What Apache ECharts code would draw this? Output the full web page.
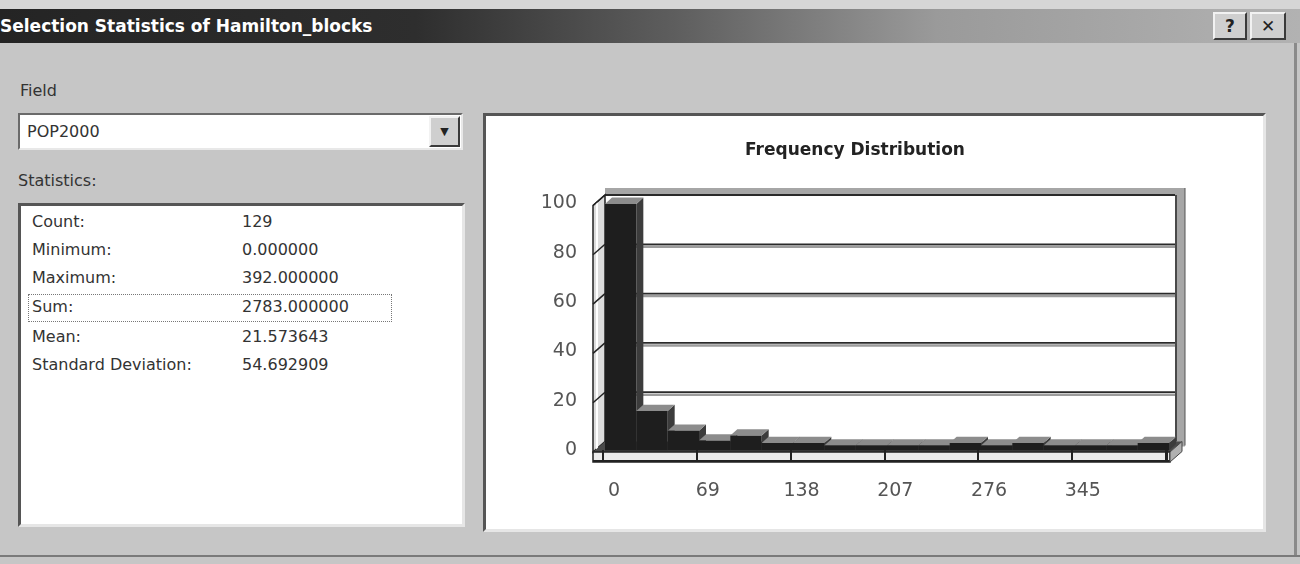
<!DOCTYPE html>
<html>
<head>
<meta charset="utf-8">
<script src="https://cdn.jsdelivr.net/npm/echarts@6/dist/echarts.min.js"></script>
<style>
  html,body{margin:0;padding:0;}
  body{width:1300px;height:564px;overflow:hidden;position:relative;background:#c6c6c6;font-family:"DejaVu Sans",Verdana,sans-serif;color:#2a2a2a;}
  .abs{position:absolute;}
  #topstrip{left:0;top:0;width:1300px;height:9px;background:#d6d6d6;}
  #titlebar{left:0;top:9px;width:1300px;height:34px;background:linear-gradient(90deg,#242424 0%,#2e2e2e 32%,#5e5e5e 52%,#9a9a9a 72%,#b2b2b2 100%);}
  #titletext{left:0;top:9px;height:34px;line-height:34px;color:#fff;font-weight:bold;font-size:17px;white-space:nowrap;}
  .btn{top:12px;height:24px;background:#cfcfcf;border-top:2px solid #f2f2f2;border-left:2px solid #f2f2f2;border-bottom:2px solid #3a3a3a;border-right:2px solid #3a3a3a;text-align:center;line-height:24px;font-weight:bold;font-size:17px;color:#222;}
  .lbl{font-size:16px;color:#333;white-space:nowrap;}
  #dropdown{left:18px;top:113px;width:441px;height:33px;background:#fff;border-top:2px solid #6a6a6a;border-left:2px solid #6a6a6a;border-bottom:2px solid #e8e8e8;border-right:2px solid #e8e8e8;}
  #ddtext{left:7px;top:0;line-height:33px;font-size:16px;color:#333;}
  #ddbtn{right:1px;top:1px;width:27px;height:27px;background:#cfcfcf;border-top:2px solid #f2f2f2;border-left:2px solid #f2f2f2;border-bottom:2px solid #3a3a3a;border-right:2px solid #3a3a3a;text-align:center;line-height:27px;font-size:11px;color:#222;}
  #statsbox{left:18px;top:203px;width:441px;height:318px;background:#fff;border-top:3px solid #555;border-left:3px solid #555;border-bottom:3px solid #e6e6e6;border-right:3px solid #e6e6e6;}
  .srow{font-size:16px;color:#333;white-space:nowrap;height:20px;line-height:20px;}
  #focus{left:28px;top:294px;width:362px;height:26px;border:1px dotted #777;}
  #chartpanel{left:483px;top:113px;width:777px;height:413px;background:#fff;border-top:3px solid #555;border-left:3px solid #555;border-bottom:3px solid #e6e6e6;border-right:3px solid #e6e6e6;}
  #bottomline{left:0;top:555px;width:1300px;height:2px;background:#7a7a7a;}
  #rightedge{left:1294px;top:43px;width:3px;height:512px;background:#8a8a8a;}
  #chart{position:absolute;left:0;top:0;width:1300px;height:564px;z-index:5;}
</style>
</head>
<body>
<div id="topstrip" class="abs"></div>
<div id="titlebar" class="abs"></div>
<div id="titletext" class="abs">Selection Statistics of Hamilton_blocks</div>
<div class="abs btn" style="left:1213px;width:30px;">?</div>
<div class="abs btn" style="left:1250px;width:32px;">✕</div>
<div id="rightedge" class="abs"></div>

<div class="abs lbl" style="left:20px;top:81px;">Field</div>
<div id="dropdown" class="abs"><div id="ddtext" class="abs">POP2000</div><div id="ddbtn" class="abs">▼</div></div>
<div class="abs lbl" style="left:18px;top:171px;">Statistics:</div>
<div id="statsbox" class="abs"></div>
<div id="focus" class="abs"></div>
<div id="statsrows"></div>

<div id="chartpanel" class="abs"></div>
<div id="bottomline" class="abs"></div>

<div id="chart"></div>
<script>
// ---------- data ----------
const statNames  = ["Count:", "Minimum:", "Maximum:", "Sum:", "Mean:", "Standard Deviation:"];
const statValues = ["129", "0.000000", "392.000000", "2783.000000", "21.573643", "54.692909"];
const fieldName  = "POP2000";
const chartTitle = "Frequency Distribution";
const maxValue   = 392;
const binCount   = 18;          // bins along the x axis
const binsPerMax = 17;          // bin width = max / 17
const binCounts  = [100, 16, 8, 4, 6, 3, 3, 2, 2, 2, 2, 3, 2, 3, 2, 2, 2, 3];
const xTicks     = [0, 69, 138, 207, 276, 345];
const yTicks     = [0, 20, 40, 60, 80, 100];

// ---------- stats text ----------
const rowsDiv = document.getElementById('statsrows');
const rowTops = [212, 240, 268, 297, 327, 355];
statNames.forEach((n, i) => {
  const a = document.createElement('div');
  a.className = 'abs srow'; a.style.left = '32px'; a.style.top = rowTops[i] + 'px'; a.textContent = n;
  const b = document.createElement('div');
  b.className = 'abs srow'; b.style.left = '242px'; b.style.top = rowTops[i] + 'px'; b.textContent = statValues[i];
  rowsDiv.appendChild(a); rowsDiv.appendChild(b);
});
document.getElementById('ddtext').textContent = fieldName;

// ---------- chart ----------
const BIN = maxValue / binsPerMax;
const XMAX = BIN * binCount;
const barData = binCounts.map((c, i) => [i * BIN, (i + 1) * BIN, c]);

// 3D offsets (pixels) relative to the back wall plane
const FLOOR = [-12, 10.5];
const BAR_FRONT = [-10, 8.9];
const BAR_BACK = [-3, 2.6];

function frameItem(params, api) {
  const o = api.coord([0, 0]);
  const e = api.coord([XMAX, 100]);
  const L = o[0] - 10, R = e[0] + 3, T = e[1], B = o[1];
  const fx = FLOOR[0], fy = FLOOR[1];
  const ch = [];
  // back wall
  ch.push({type:'rect', shape:{x:L, y:T, width:R-L, height:B-T}, style:{fill:'#ffffff'}});
  // gridlines
  yTicks.forEach(v => {
    if (v === 0 || v === 100) return;
    const y = api.coord([0, v])[1];
    ch.push({type:'line', shape:{x1:L, y1:y+2.5, x2:R-6, y2:y+2.5}, style:{stroke:'#9c9c9c', lineWidth:2.5}});
    ch.push({type:'line', shape:{x1:L, y1:y, x2:R-6, y2:y}, style:{stroke:'#2a2a2a', lineWidth:1.8}});
  });
  // top border band
  ch.push({type:'rect', shape:{x:L, y:T-7, width:R-L+3, height:7}, style:{fill:'#a6a6a6'}});
  ch.push({type:'line', shape:{x1:L, y1:T, x2:R-6, y2:T}, style:{stroke:'#2a2a2a', lineWidth:1.8}});
  // right border band
  ch.push({type:'rect', shape:{x:R-7, y:T-7, width:10, height:B-T+12}, style:{fill:'#a6a6a6'}});
  ch.push({type:'line', shape:{x1:R-6, y1:T, x2:R-6, y2:B}, style:{stroke:'#2a2a2a', lineWidth:1.5}});
  ch.push({type:'line', shape:{x1:R+3, y1:T-7, x2:R+3, y2:B+4}, style:{stroke:'#555', lineWidth:1}});
  // left wall
  ch.push({type:'polygon', shape:{points:[[L,T],[L,B],[L+fx,B+fy],[L+fx,T+fy]]}, style:{fill:'#dcdcdc', stroke:'#222', lineWidth:1.5}});
  ch.push({type:'line', shape:{x1:L+fx+4, y1:T+fy-3, x2:L+fx+4, y2:B+fy}, style:{stroke:'#fff', lineWidth:2}});
  yTicks.forEach(v => {
    if (v === 0) return;
    const y = api.coord([0, v])[1];
    ch.push({type:'line', shape:{x1:L+fx, y1:y+fy, x2:L, y2:y}, style:{stroke:'#222', lineWidth:1.5}});
  });
  // floor top
  ch.push({type:'polygon', shape:{points:[[L,B],[R,B],[R+fx,B+fy],[L+fx,B+fy]]}, style:{fill:'#4a4a4a'}});
  // floor front slab
  ch.push({type:'rect', shape:{x:L+fx, y:B+fy, width:R-L, height:10}, style:{fill:'#ececec', stroke:'#222', lineWidth:1.5}});
  ch.push({type:'line', shape:{x1:L+fx, y1:B+fy+9, x2:R+fx, y2:B+fy+9}, style:{stroke:'#222', lineWidth:2}});
  ch.push({type:'polygon', shape:{points:[[R+fx,B+fy],[R,B],[R,B+10],[R+fx,B+fy+10]]}, style:{fill:'#b0b0b0', stroke:'#444', lineWidth:1}});
  return {type:'group', children:ch};
}

function barItem(params, api) {
  const x0 = api.value(0), x1 = api.value(1), v = api.value(2);
  const bl = api.coord([x0, 0]);
  const tr = api.coord([x1, v]);
  const f = BAR_FRONT, b = BAR_BACK;
  const ch = [];
  // right side face
  ch.push({type:'polygon', shape:{points:[[tr[0]+f[0], tr[1]+f[1]],[tr[0]+b[0], tr[1]+b[1]],[tr[0]+b[0], bl[1]+b[1]],[tr[0]+f[0], bl[1]+f[1]]]}, style:{fill:'#3c3c3c'}});
  // top face
  ch.push({type:'polygon', shape:{points:[[bl[0]+f[0], tr[1]+f[1]],[tr[0]+f[0], tr[1]+f[1]],[tr[0]+b[0], tr[1]+b[1]],[bl[0]+b[0], tr[1]+b[1]]]}, style:{fill:'#8c8c8c'}});
  // front face
  ch.push({type:'rect', shape:{x:bl[0]+f[0], y:tr[1]+f[1], width:tr[0]-bl[0], height:bl[1]-tr[1]}, style:{fill:'#1e1e1e'}});
  return {type:'group', children:ch};
}

const chart = echarts.init(document.getElementById('chart'), null, {renderer:'canvas'});
const labelFont = {fontFamily:'"DejaVu Sans", sans-serif', fontSize:19, color:'#555'};
chart.setOption({
  backgroundColor:'transparent',
  animation:false,
  title:{text:chartTitle, left:850, top:137, textAlign:'center',
    textStyle:{fontFamily:'"DejaVu Sans", sans-serif', fontWeight:'bold', fontSize:17, color:'#222'}},
  grid:[
    {left:615, top:195, width:564, height:246.5},
    {left:603, top:203.5, width:564, height:246.5}
  ],
  xAxis:[
    {gridIndex:0, type:'value', min:0, max:XMAX, show:false},
    {gridIndex:1, type:'value', min:0, max:XMAX, interval:69, z:10,
      axisLine:{show:false}, splitLine:{show:false},
      axisTick:{show:true, length:12, lineStyle:{color:'#222', width:2}},
      axisLabel:Object.assign({margin:32, padding:[0,0,0,22],
        formatter:v => (xTicks.indexOf(v) >= 0 ? String(v) : '')}, labelFont)}
  ],
  yAxis:[
    {gridIndex:0, type:'value', min:0, max:100, show:false},
    {gridIndex:1, type:'value', min:0, max:100, interval:20,
      axisLine:{show:false}, axisTick:{show:false}, splitLine:{show:false},
      axisLabel:Object.assign({margin:26, padding:[5,0,0,0]}, labelFont)}
  ],
  series:[
    {type:'custom', name:'frame', xAxisIndex:0, yAxisIndex:0, z:1, silent:true,
      renderItem:frameItem, data:[[0,0]], clip:false},
    {type:'custom', name:'bins', xAxisIndex:0, yAxisIndex:0, z:2, silent:true,
      renderItem:barItem, data:barData, clip:false,
      encode:{x:[0,1], y:2}}
  ]
});
</script>
</body>
</html>
